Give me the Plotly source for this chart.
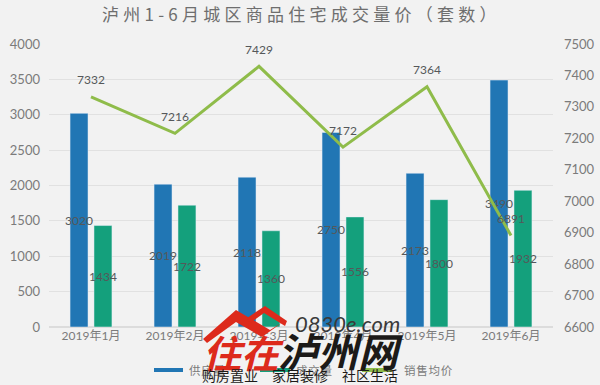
import plotly.graph_objects as go

W, H = 600, 385
ML, MR, MT, MB = 49, 47, 44, 58
categories = ["2019年1月", "2019年2月", "2019年3月", "2019年4月", "2019年5月", "2019年6月"]
supply = [3020, 2019, 2118, 2750, 2173, 3490]
sold = [1434, 1722, 1360, 1556, 1800, 1932]
price = [7332, 7216, 7429, 7172, 7364, 6891]
left_ticks = [0, 500, 1000, 1500, 2000, 2500, 3000, 3500, 4000]
right_ticks = [6600, 6700, 6800, 6900, 7000, 7100, 7200, 7300, 7400, 7500]
title = "泸州1-6月城区商品住宅成交量价（套数）"
legend_names = ["供应量", "成交量", "销售均价"]

BLUE, GREEN, LIME = "#2176b4", "#14a07c", "#8fbc4a"
GRAY = "#7b7b7b"
LABEL = "#55585a"
FONT = "Lato, 'Noto Sans CJK SC', sans-serif"
CJK = "'Noto Sans CJK SC', sans-serif"


def pxx(x):
    return (x - ML) / (W - ML - MR)


def pxy(y):
    return 1 - (y - MT) / (H - MT - MB)


fig = go.Figure()
for name, vals, col in [(legend_names[0], supply, BLUE), (legend_names[1], sold, GREEN)]:
    fig.add_bar(x=categories, y=vals, name=name, marker_color=col, text=[str(v) for v in vals],
                textposition="inside", insidetextanchor="middle", textangle=0,
                constraintext="none", textfont=dict(size=12, color=LABEL, family=FONT),
                showlegend=False)
fig.add_scatter(x=categories, y=price, yaxis="y2", mode="lines", name=legend_names[2],
                line=dict(color=LIME, width=3), showlegend=False)

anns = [dict(x=c, y=p, xref="x", yref="y2", text=str(p), showarrow=False, yshift=17,
             font=dict(size=12, color=LABEL, family=FONT)) for c, p in zip(categories, price)]


def ptext(x, y, text, size, color, family=CJK, xanchor="center"):
    anns.append(dict(x=pxx(x), y=pxy(y), xref="paper", yref="paper", text=text, showarrow=False,
                     xanchor=xanchor, yanchor="middle", font=dict(size=size, color=color, family=family)))


ptext(299, 14, "\u2005".join(title), 17, "#6e6e6e")
# legend
ptext(187, 370, "\u200a".join(legend_names[0]), 11.5, GRAY, xanchor="left")
ptext(294, 370, "\u200a".join(legend_names[1]), 11.5, GRAY, xanchor="left")
ptext(402, 370, "\u200a".join(legend_names[2]), 11.5, GRAY, xanchor="left")
# watermark
ptext(243, 351, "<b><i>住在</i></b>", 38, "#dd2a1b")
ptext(340, 350, "<b><i>泸州网</i></b>", 40, "#1c1a18")
ptext(347, 323, "<i>0830e.com</i>", 22, "#3a3a3a", family="Lato")
ptext(300, 375, "购房置业\u2003家居装修\u2003社区生活", 14, "#1c1a18")


def rect(x0, x1, y0, y1, col):
    return dict(type="rect", xref="paper", yref="paper", x0=pxx(x0), x1=pxx(x1), y0=pxy(y1), y1=pxy(y0),
                fillcolor=col, line_width=0)


shapes = [rect(154, 183, 368, 372, BLUE), rect(260, 290, 368, 372, GREEN), rect(362, 392, 368, 372, LIME)]
# watermark roof
roof_a = [(203, 339), (236, 310), (270, 330), (283, 322), (262, 337), (236, 322), (207, 343)]
roof_b = [(247, 318), (265, 306), (287, 321), (285, 326), (264, 313), (250, 323)]
for pts in (roof_a, roof_b):
    path = "M " + " L ".join(f"{pxx(x):.4f} {pxy(y):.4f}" for x, y in pts) + " Z"
    shapes.append(dict(type="path", xref="paper", yref="paper", path=path, fillcolor="#dd2a1b", line_width=0))

fig.update_layout(
    width=W, height=H, autosize=False,
    paper_bgcolor="#f2f2f2", plot_bgcolor="#f2f2f2",
    margin=dict(l=ML, r=MR, t=MT, b=MB, autoexpand=False),
    barmode="group", bargap=0.43, bargroupgap=0.25,
    showlegend=False, annotations=anns, shapes=shapes,
    xaxis=dict(type="category", categoryorder="array", categoryarray=categories, showgrid=False,
               ticks="", showline=False, automargin=False, tickfont=dict(size=12, color=GRAY, family=FONT)),
    yaxis=dict(range=[0, 4000], tickvals=left_ticks, gridcolor="#e1e1e1", gridwidth=1.3, zeroline=True,
               zerolinecolor="#dcdcdc", tickfont=dict(size=13, color=GRAY, family=FONT), ticks="",
               ticklabelstandoff=8, automargin=False),
    yaxis2=dict(range=[6600, 7500], tickvals=right_ticks, overlaying="y", side="right", showgrid=False,
                zeroline=False, tickfont=dict(size=13, color=GRAY, family=FONT), ticks="",
                ticklabelstandoff=10, automargin=False),
)
fig.write_html("out.html", config={"displayModeBar": False},
               post_script="document.body.style.margin='0';document.documentElement.style.overflow='hidden';")
